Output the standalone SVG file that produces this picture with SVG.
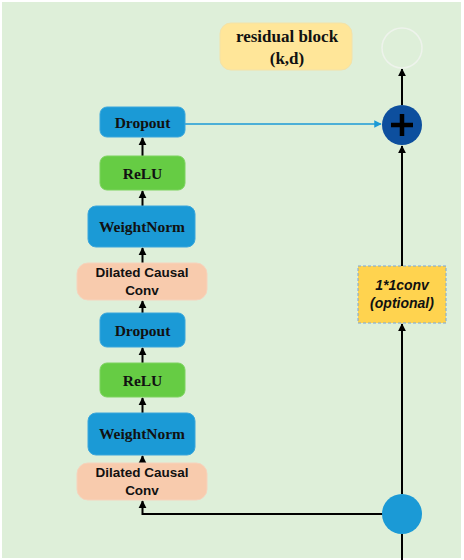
<svg xmlns="http://www.w3.org/2000/svg" width="464" height="560" viewBox="0 0 464 560">
<defs>
<marker id="ah" viewBox="0 0 10 10" refX="9" refY="5" markerWidth="4" markerHeight="4.5" orient="auto" markerUnits="strokeWidth"><path d="M0,0 L10,5 L0,10 z" fill="#000"/></marker>
<marker id="ahb" viewBox="0 0 10 10" refX="9" refY="5" markerWidth="5" markerHeight="5" orient="auto" markerUnits="strokeWidth"><path d="M0,0 L10,5 L0,10 z" fill="#1b9ad6"/></marker>
<style>
.blue{fill:#1b9ad6;stroke:#3aa6dc;stroke-width:1}
.green{fill:#66cc44;stroke:#7cd35e;stroke-width:1}
.peach{fill:#f8cbad;stroke:#f6d3bd;stroke-width:1}
.ser{font-family:"Liberation Serif","Times New Roman",serif;font-weight:bold;font-size:15.5px;fill:#111;text-anchor:middle}
.san{font-family:"Liberation Sans",Arial,sans-serif;font-weight:bold;font-size:13.5px;fill:#111;text-anchor:middle}
.ln{stroke:#000;stroke-width:2;fill:none}
</style>
</defs>
<rect x="2" y="2" width="459" height="556" fill="#deefd9"/>
<g id="connectors">
<line class="ln" x1="142.5" y1="156" x2="142.5" y2="138" marker-end="url(#ah)"/>
<line class="ln" x1="142.5" y1="206" x2="142.5" y2="191" marker-end="url(#ah)"/>
<line class="ln" x1="142.5" y1="263" x2="142.5" y2="248" marker-end="url(#ah)"/>
<line class="ln" x1="142.5" y1="313" x2="142.5" y2="301" marker-end="url(#ah)"/>
<line class="ln" x1="142.5" y1="363" x2="142.5" y2="348" marker-end="url(#ah)"/>
<line class="ln" x1="142.5" y1="413" x2="142.5" y2="398" marker-end="url(#ah)"/>
<line class="ln" x1="142.5" y1="463" x2="142.5" y2="456" marker-end="url(#ah)"/>
<polyline class="ln" points="383,514 142.5,514 142.5,501" marker-end="url(#ah)"/>
<line class="ln" x1="402" y1="560" x2="402" y2="534"/>
<line class="ln" x1="402" y1="494" x2="402" y2="324" marker-end="url(#ah)"/>
<line class="ln" x1="402" y1="266" x2="402" y2="146" marker-end="url(#ah)"/>
<line class="ln" x1="402" y1="105" x2="402" y2="69" marker-end="url(#ah)"/>
<line x1="185" y1="124" x2="381" y2="124" stroke="#1b9ad6" stroke-width="1.5" marker-end="url(#ahb)"/>
</g>
<g id="residual_block">
<rect x="220" y="23" width="132" height="47" rx="11" fill="#ffe699" stroke="#f3e2a8" stroke-width="1"/>
<text class="ser" x="287" y="42" style="font-size:17px">residual block</text>
<text class="ser" x="287" y="64" style="font-size:17px">(k,d)</text>
</g>
<g id="output_circle"><circle cx="402" cy="48" r="20" fill="none" stroke="#eef3ec" stroke-width="1.5"/></g>
<g id="add">
<circle cx="402" cy="125" r="20" fill="#0d4f9e"/>
<path d="M391,125 H413 M402,114 V136" stroke="#000" stroke-width="4.5"/>
</g>
<g id="dropout1"><rect class="blue" x="100" y="107" width="85" height="30" rx="7"/><text class="ser" x="142.5" y="128">Dropout</text></g>
<g id="relu1"><rect class="green" x="100" y="156" width="85" height="34" rx="7"/><text class="ser" x="142.5" y="179">ReLU</text></g>
<g id="weightnorm1"><rect class="blue" x="88" y="206" width="107" height="41" rx="8"/><text class="ser" x="142" y="232">WeightNorm</text></g>
<g id="dilated1"><rect class="peach" x="77" y="263" width="130" height="37" rx="11"/><text class="san" x="142" y="277">Dilated Causal</text><text class="san" x="142" y="295">Conv</text></g>
<g id="dropout2"><rect class="blue" x="100" y="313" width="85" height="34" rx="7"/><text class="ser" x="142.5" y="336">Dropout</text></g>
<g id="relu2"><rect class="green" x="100" y="363" width="85" height="34" rx="7"/><text class="ser" x="142.5" y="386">ReLU</text></g>
<g id="weightnorm2"><rect class="blue" x="88" y="413" width="107" height="42" rx="8"/><text class="ser" x="142" y="439">WeightNorm</text></g>
<g id="dilated2"><rect class="peach" x="77" y="463" width="130" height="37" rx="11"/><text class="san" x="142" y="477">Dilated Causal</text><text class="san" x="142" y="495">Conv</text></g>
<g id="conv1x1">
<rect x="358" y="266" width="88" height="57" fill="#ffd34f" stroke="#7aa6d8" stroke-width="1" stroke-dasharray="3,2"/>
<text class="san" x="402" y="290" style="font-size:14px;font-style:italic">1*1conv</text>
<text class="san" x="402" y="308" style="font-size:14px;font-style:italic">(optional)</text>
</g>
<g id="input"><circle cx="402" cy="514" r="20" fill="#1b9ad6"/></g>
</svg>
